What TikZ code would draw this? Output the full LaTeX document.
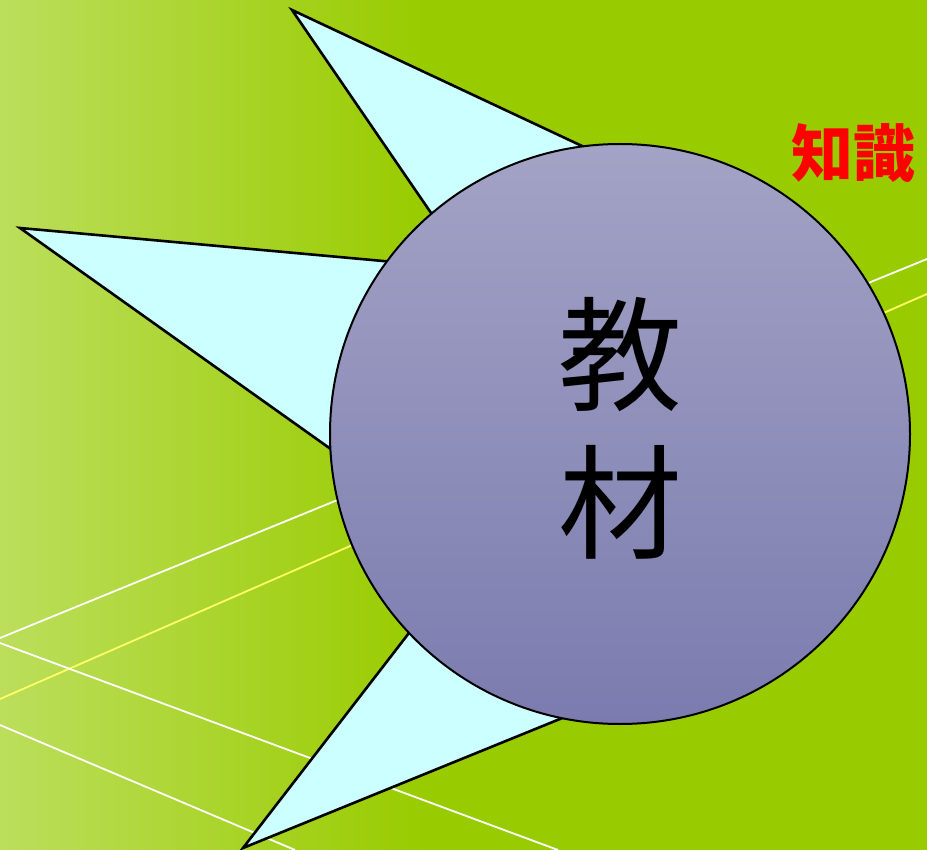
\documentclass[tikz,border=0pt]{standalone}
\usepackage{fontspec}
\newfontfamily\cjk{Noto Sans CJK JP}
\definecolor{leafgreen}{HTML}{99CC00}
\definecolor{paleleaf}{HTML}{BCDE5C}
\definecolor{icecyan}{HTML}{CCFFFF}
\definecolor{discTop}{HTML}{A3A3C6}
\definecolor{discBottom}{HTML}{7B7BAF}
\definecolor{lineYellow}{HTML}{FFFF66}
\tikzset{
  spike/.style={fill=icecyan,draw=black,line width=2.6pt,line join=miter},
  ray/.style={white,line width=1.8pt},
}
\begin{document}
\begin{tikzpicture}[x=1pt,y=-1pt]
  \useasboundingbox (0,0) rectangle (927,850);
  \clip (0,0) rectangle (927,850);
  %%%%%%%%%%%%%background%%%%%%%%%%%%%%%%%%%%%%
  \fill[leafgreen] (0,0) rectangle (927,850);
  \shade[left color=paleleaf,right color=leafgreen] (0,0) rectangle (420,850);

  %%%%%%%%%%%%%thin lines%%%%%%%%%%%%%%%%%%%%%%
  \draw[ray] (0,638) -- (927,259);
  \draw[lineYellow,line width=1.8pt] (0,699) -- (927,294);
  \draw[ray] (0,643) -- (558,850);
  \draw[ray] (0,725) -- (295,850);

  %%%%%%%%%%%%%the spikes%%%%%%%%%%%%%%%%%%%%%%
  \draw[spike] (292,10) -- (540,372) -- (695,199) -- cycle;
  \draw[spike] (20,228) -- (570,278) -- (484,558) -- cycle;
  \draw[spike] (243,848) -- (507,506) -- (722,653) -- cycle;

  %%%%%%%%%%%%%the disc%%%%%%%%%%%%%%%%%%%%%%
  \shade[top color=discTop,bottom color=discBottom,draw=black,line width=2pt]
    (620,434) circle (290pt);

  \node[font=\cjk\fontsize{124}{148}\selectfont,align=center,inner sep=0pt]
    (kyozai) at (620,428) {教\\材};
  \node[font=\cjk\bfseries\fontsize{62}{62}\selectfont,text=red,inner sep=0pt]
    (chishiki) at (853,153) {知識};
\end{tikzpicture}
\end{document}
